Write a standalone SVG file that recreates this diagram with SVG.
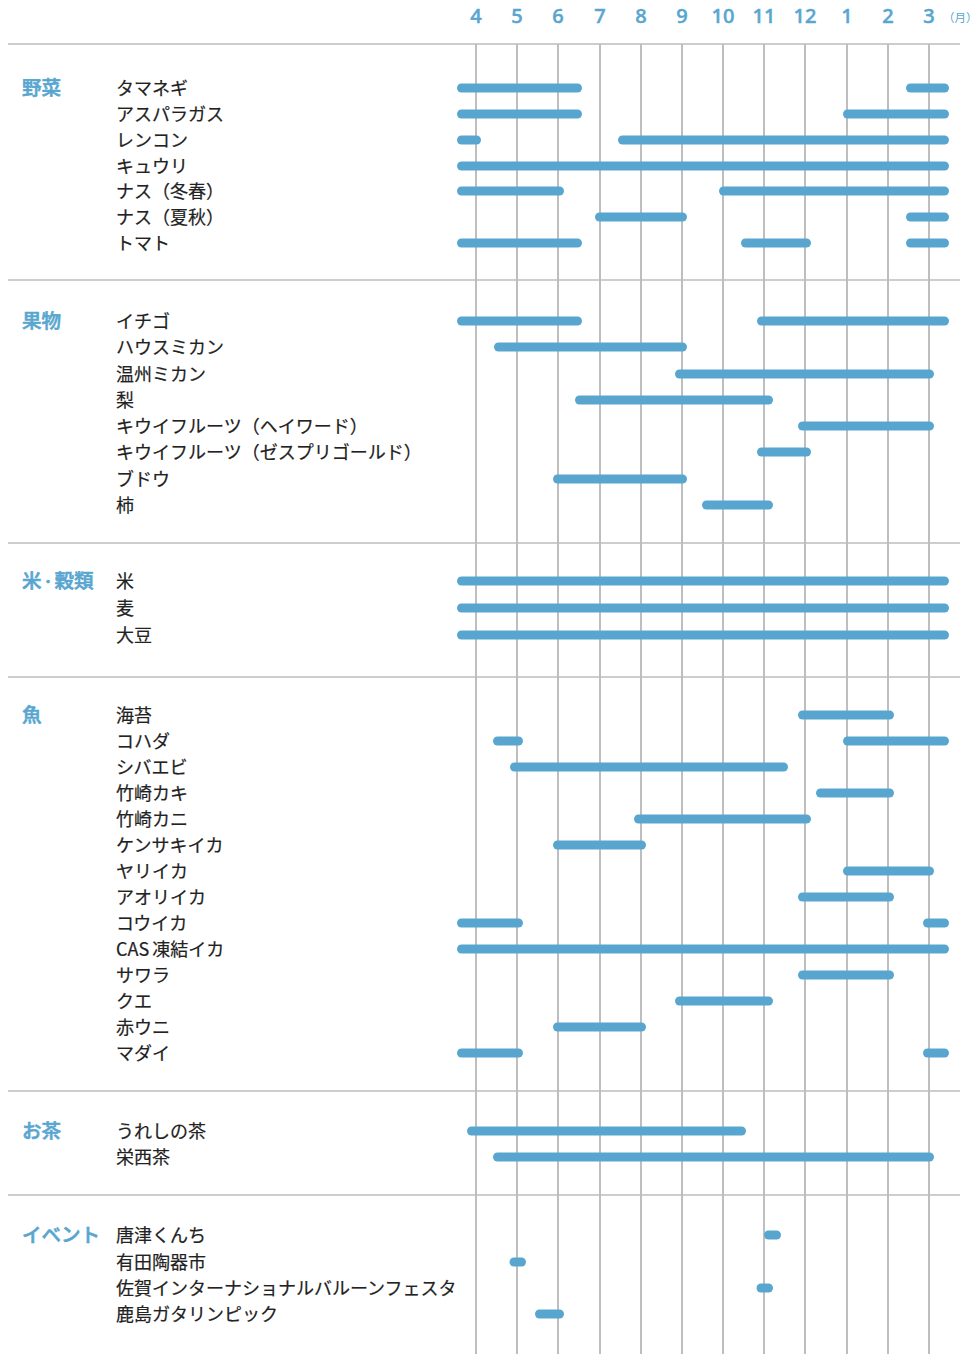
<svg xmlns="http://www.w3.org/2000/svg" width="978" height="1354" viewBox="0 0 978 1354">
<style>
.bg{fill:#ffffff}
.vl{stroke:#a8a8a8;stroke-width:1.5}
.hl{stroke:#bdbdbd;stroke-width:1.5}
.mo{font-family:"Noto Sans","Noto Sans CJK JP",sans-serif;font-size:20px;font-weight:500;fill:#58a6cf;stroke:#58a6cf;stroke-width:0.5;text-anchor:middle}
.unit{font-family:"Noto Sans CJK JP",sans-serif;font-size:11.5px;fill:#58a6cf}
.cat{font-family:"Noto Sans CJK JP",sans-serif;font-size:19.5px;font-weight:500;fill:#58a6cf;stroke:#58a6cf;stroke-width:0.6}
.it{font-family:"Noto Sans CJK JP",sans-serif;font-size:18px;fill:#222222;stroke:#222222;stroke-width:0.2}
.bar{stroke:#58a6cf;stroke-width:9;stroke-linecap:round}
</style>
<rect class="bg" x="0" y="0" width="978" height="1354"/>
<g id="header">
<text class="mo" x="476" y="23">4</text>
<text class="mo" x="517" y="23">5</text>
<text class="mo" x="558" y="23">6</text>
<text class="mo" x="600" y="23">7</text>
<text class="mo" x="641" y="23">8</text>
<text class="mo" x="682" y="23">9</text>
<text class="mo" x="723" y="23">10</text>
<text class="mo" x="764" y="23">11</text>
<text class="mo" x="805" y="23">12</text>
<text class="mo" x="847" y="23">1</text>
<text class="mo" x="888" y="23">2</text>
<text class="mo" x="929" y="23">3</text>
<text class="unit" x="943" y="22">（月）</text>
</g>
<g id="grid">
<line class="vl" x1="476" y1="44" x2="476" y2="1354"/>
<line class="vl" x1="517" y1="44" x2="517" y2="1354"/>
<line class="vl" x1="558" y1="44" x2="558" y2="1354"/>
<line class="vl" x1="600" y1="44" x2="600" y2="1354"/>
<line class="vl" x1="641" y1="44" x2="641" y2="1354"/>
<line class="vl" x1="682" y1="44" x2="682" y2="1354"/>
<line class="vl" x1="723" y1="44" x2="723" y2="1354"/>
<line class="vl" x1="764" y1="44" x2="764" y2="1354"/>
<line class="vl" x1="805" y1="44" x2="805" y2="1354"/>
<line class="vl" x1="847" y1="44" x2="847" y2="1354"/>
<line class="vl" x1="888" y1="44" x2="888" y2="1354"/>
<line class="vl" x1="929" y1="44" x2="929" y2="1354"/>
<line class="hl" x1="8" y1="44" x2="960" y2="44"/>
<line class="hl" x1="8" y1="280" x2="960" y2="280"/>
<line class="hl" x1="8" y1="543" x2="960" y2="543"/>
<line class="hl" x1="8" y1="677" x2="960" y2="677"/>
<line class="hl" x1="8" y1="1091" x2="960" y2="1091"/>
<line class="hl" x1="8" y1="1195" x2="960" y2="1195"/>
</g>
<g id="categories">
<text class="cat" x="22" y="95">野菜</text>
<text class="cat" x="22" y="328">果物</text>
<text class="cat" x="22" y="588">米<tspan font-size="13" dy="-2">・</tspan><tspan dy="2">穀類</tspan></text>
<text class="cat" x="22" y="722">魚</text>
<text class="cat" x="22" y="1138">お茶</text>
<text class="cat" x="22" y="1242">イベント</text>
</g>
<g id="veg">
<g id="r-tamanegi"><text class="it" x="116" y="94.5">タマネギ</text><line class="bar" x1="461.5" y1="88" x2="577.5" y2="88"/><line class="bar" x1="910.5" y1="88" x2="944.5" y2="88"/></g>
<g id="r-asparagus"><text class="it" x="116" y="120.5">アスパラガス</text><line class="bar" x1="461.5" y1="114" x2="577.5" y2="114"/><line class="bar" x1="847.5" y1="114" x2="944.5" y2="114"/></g>
<g id="r-renkon"><text class="it" x="116" y="146.5">レンコン</text><line class="bar" x1="461.5" y1="140" x2="476.5" y2="140"/><line class="bar" x1="622.5" y1="140" x2="944.5" y2="140"/></g>
<g id="r-kyuri"><text class="it" x="116" y="172.5">キュウリ</text><line class="bar" x1="461.5" y1="166" x2="944.5" y2="166"/></g>
<g id="r-nasu1"><text class="it" x="116" y="197.5">ナス（冬春）</text><line class="bar" x1="461.5" y1="191" x2="559.5" y2="191"/><line class="bar" x1="723.5" y1="191" x2="944.5" y2="191"/></g>
<g id="r-nasu2"><text class="it" x="116" y="223.5">ナス（夏秋）</text><line class="bar" x1="599.5" y1="217" x2="682.5" y2="217"/><line class="bar" x1="910.5" y1="217" x2="944.5" y2="217"/></g>
<g id="r-tomato"><text class="it" x="116" y="249.5">トマト</text><line class="bar" x1="461.5" y1="243" x2="577.5" y2="243"/><line class="bar" x1="745.5" y1="243" x2="806.5" y2="243"/><line class="bar" x1="910.5" y1="243" x2="944.5" y2="243"/></g>
</g>
<g id="fruit">
<g id="r-ichigo"><text class="it" x="116" y="327.5">イチゴ</text><line class="bar" x1="461.5" y1="321" x2="577.5" y2="321"/><line class="bar" x1="761.5" y1="321" x2="944.5" y2="321"/></g>
<g id="r-housemikan"><text class="it" x="116" y="353.5">ハウスミカン</text><line class="bar" x1="498.5" y1="347" x2="682.5" y2="347"/></g>
<g id="r-unshu"><text class="it" x="116" y="380.5">温州ミカン</text><line class="bar" x1="679.5" y1="374" x2="929.5" y2="374"/></g>
<g id="r-nashi"><text class="it" x="116" y="406.5">梨</text><line class="bar" x1="579.5" y1="400" x2="768.5" y2="400"/></g>
<g id="r-kiwi1"><text class="it" x="116" y="432.5">キウイフルーツ（ヘイワード）</text><line class="bar" x1="802.5" y1="426" x2="929.5" y2="426"/></g>
<g id="r-kiwi2"><text class="it" x="116" y="458.5">キウイフルーツ（ゼスプリゴールド）</text><line class="bar" x1="761.5" y1="452" x2="806.5" y2="452"/></g>
<g id="r-budou"><text class="it" x="116" y="485.5">ブドウ</text><line class="bar" x1="557.5" y1="479" x2="682.5" y2="479"/></g>
<g id="r-kaki"><text class="it" x="116" y="511.5">柿</text><line class="bar" x1="706.5" y1="505" x2="768.5" y2="505"/></g>
</g>
<g id="grain">
<g id="r-kome"><text class="it" x="116" y="587.5">米</text><line class="bar" x1="461.5" y1="581" x2="944.5" y2="581"/></g>
<g id="r-mugi"><text class="it" x="116" y="614.5">麦</text><line class="bar" x1="461.5" y1="608" x2="944.5" y2="608"/></g>
<g id="r-daizu"><text class="it" x="116" y="641.5">大豆</text><line class="bar" x1="461.5" y1="635" x2="944.5" y2="635"/></g>
</g>
<g id="fish">
<g id="r-nori"><text class="it" x="116" y="721.5">海苔</text><line class="bar" x1="802.5" y1="715" x2="889.5" y2="715"/></g>
<g id="r-kohada"><text class="it" x="116" y="747.5">コハダ</text><line class="bar" x1="497.5" y1="741" x2="518.5" y2="741"/><line class="bar" x1="847.5" y1="741" x2="944.5" y2="741"/></g>
<g id="r-shibaebi"><text class="it" x="116" y="773.5">シバエビ</text><line class="bar" x1="514.5" y1="767" x2="783.5" y2="767"/></g>
<g id="r-kaki2"><text class="it" x="116" y="799.5">竹崎カキ</text><line class="bar" x1="820.5" y1="793" x2="889.5" y2="793"/></g>
<g id="r-kani"><text class="it" x="116" y="825.5">竹崎カニ</text><line class="bar" x1="638.5" y1="819" x2="806.5" y2="819"/></g>
<g id="r-kensaki"><text class="it" x="116" y="851.5">ケンサキイカ</text><line class="bar" x1="557.5" y1="845" x2="641.5" y2="845"/></g>
<g id="r-yari"><text class="it" x="116" y="877.5">ヤリイカ</text><line class="bar" x1="847.5" y1="871" x2="929.5" y2="871"/></g>
<g id="r-aori"><text class="it" x="116" y="903.5">アオリイカ</text><line class="bar" x1="802.5" y1="897" x2="889.5" y2="897"/></g>
<g id="r-kou"><text class="it" x="116" y="929.5">コウイカ</text><line class="bar" x1="461.5" y1="923" x2="518.5" y2="923"/><line class="bar" x1="927.5" y1="923" x2="944.5" y2="923"/></g>
<g id="r-cas"><text class="it" x="116" y="955.5">CAS<tspan dx="3">凍結イカ</tspan></text><line class="bar" x1="461.5" y1="949" x2="944.5" y2="949"/></g>
<g id="r-sawara"><text class="it" x="116" y="981.5">サワラ</text><line class="bar" x1="802.5" y1="975" x2="889.5" y2="975"/></g>
<g id="r-kue"><text class="it" x="116" y="1007.5">クエ</text><line class="bar" x1="679.5" y1="1001" x2="768.5" y2="1001"/></g>
<g id="r-uni"><text class="it" x="116" y="1033.5">赤ウニ</text><line class="bar" x1="557.5" y1="1027" x2="641.5" y2="1027"/></g>
<g id="r-madai"><text class="it" x="116" y="1059.5">マダイ</text><line class="bar" x1="461.5" y1="1053" x2="518.5" y2="1053"/><line class="bar" x1="927.5" y1="1053" x2="944.5" y2="1053"/></g>
</g>
<g id="tea">
<g id="r-ureshino"><text class="it" x="116" y="1137.5">うれしの茶</text><line class="bar" x1="471.5" y1="1131" x2="741.5" y2="1131"/></g>
<g id="r-eisai"><text class="it" x="116" y="1163.5">栄西茶</text><line class="bar" x1="497.5" y1="1157" x2="929.5" y2="1157"/></g>
</g>
<g id="event">
<g id="r-kunchi"><text class="it" x="116" y="1241.5">唐津くんち</text><line class="bar" x1="768.5" y1="1235" x2="776.5" y2="1235"/></g>
<g id="r-arita"><text class="it" x="116" y="1268.5">有田陶器市</text><line class="bar" x1="514" y1="1262" x2="521.5" y2="1262"/></g>
<g id="r-balloon"><text class="it" x="116" y="1294.5">佐賀インターナショナルバルーンフェスタ</text><line class="bar" x1="761" y1="1288" x2="768.5" y2="1288"/></g>
<g id="r-gata"><text class="it" x="116" y="1320.5">鹿島ガタリンピック</text><line class="bar" x1="539.5" y1="1314" x2="559.5" y2="1314"/></g>
</g>
</svg>
